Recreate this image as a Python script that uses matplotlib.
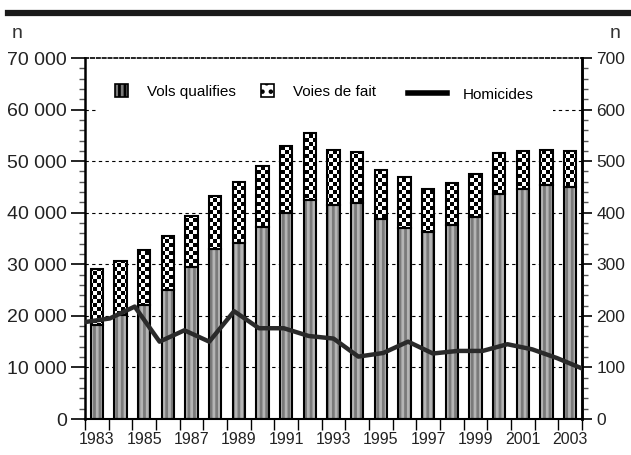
import numpy as np
import matplotlib
matplotlib.use("Agg")
import matplotlib.pyplot as plt
from matplotlib.lines import Line2D
from matplotlib.patches import Rectangle
from matplotlib.path import Path
from matplotlib.legend import Legend
from matplotlib.legend_handler import HandlerPatch
from matplotlib.ticker import MultipleLocator, FuncFormatter

years = list(range(1983, 2004))
vols_qualifies = [18200, 20100, 22100, 25100, 29500, 33000, 34200, 37300, 40000, 42400,
                  41400, 41900, 38800, 37000, 36200, 37600, 39100, 43700, 44600, 45300, 45000]
total_violence = [29100, 30600, 32700, 35400, 39300, 43200, 45900, 49100, 52900, 55400,
                  52100, 51700, 48300, 47000, 44600, 45800, 47600, 51500, 51900, 52200, 52000]
voies_de_fait = [t - v for t, v in zip(total_violence, vols_qualifies)]
homicides = [188, 195, 218, 150, 172, 150, 209, 176, 176, 161,
             156, 121, 128, 150, 127, 132, 132, 145, 135, 118, 98]
labels = ['Vols qualifies', 'Voies de fait', 'Homicides']

plt.rcParams['font.family'] = ['Liberation Sans', 'DejaVu Sans']
plt.rcParams['hatch.linewidth'] = 2.0

fig = plt.figure(figsize=(6.31, 4.55), dpi=100)
ax = fig.add_axes([85/631, 1-419/455, (582-85)/631, (419-58)/455])

n = len(years)
xc = np.arange(n) + 0.5
w = 0.52
YMAX = 70000

# Vols qualifies: gray with vertical stripes
ax.bar(xc, vols_qualifies, width=w, color='#7a7a7a', hatch='|||', edgecolor='#b4b4b4',
       linewidth=0, zorder=2)
ax.bar(xc, vols_qualifies, width=w, fill=False, edgecolor='black', linewidth=1.5, zorder=3)
# Voies de fait: checkerboard texture clipped to the bars
vdf = ax.bar(xc, voies_de_fait, bottom=vols_qualifies, width=w, color='white',
             linewidth=0, zorder=2)
ax.bar(xc, voies_de_fait, bottom=vols_qualifies, width=w, fill=False, edgecolor='black',
       linewidth=1.5, zorder=3)

nx, ny = 124, 90
checker = np.indices((ny, nx)).sum(axis=0) % 2
im = ax.imshow(checker, cmap='gray', interpolation='nearest', aspect='auto',
               extent=(0, n, 0, YMAX), origin='lower', zorder=2.5)
clip = Path.make_compound_path(*[p.get_path().transformed(p.get_patch_transform())
                                 for p in vdf])
im.set_clip_path(clip, ax.transData)

ax.set_xlim(0, n)
ax.set_ylim(0, YMAX)
ax.yaxis.set_major_locator(MultipleLocator(10000))
ax.yaxis.set_minor_locator(MultipleLocator(2000))
ax.yaxis.set_major_formatter(FuncFormatter(lambda v, p: f"{int(v):,}".replace(",", " ")))
ax.tick_params(axis='y', which='major', length=10, width=1.2, labelsize=14, pad=3,
               labelcolor='#222222')
ax.tick_params(axis='y', which='minor', length=4, width=1.0, color='#555555')

ax.set_xticks(np.arange(n + 1))
ax.set_xticklabels([])
ax.set_xticks(xc[::2], minor=True)
ax.set_xticklabels([str(y) for y in years[::2]], minor=True)
ax.tick_params(axis='x', which='major', length=8, width=1.0, direction='out')
ax.tick_params(axis='x', which='minor', length=0, labelsize=11.5, pad=9.5,
               labelcolor='#222222')

for y in range(10000, YMAX, 10000):
    ax.axhline(y, color='black', linestyle=(0, (3, 3)), linewidth=0.8, zorder=1)

ax.spines['top'].set_linestyle((0, (2, 1.5)))
ax.spines['top'].set_linewidth(1.2)
ax.spines['left'].set_linewidth(1.8)
ax.spines['bottom'].set_linewidth(1.5)
ax.spines['right'].set_linewidth(1.8)

# white band behind the legend
ax.add_patch(Rectangle((0.024, 0.842), 0.918, 0.118, transform=ax.transAxes,
                       facecolor='white', edgecolor='none', zorder=1.5))

ax2 = ax.twinx()
ax2.set_ylim(0, 700)
ax2.yaxis.set_major_locator(MultipleLocator(100))
ax2.yaxis.set_minor_locator(MultipleLocator(20))
ax2.tick_params(axis='y', which='major', length=7, width=1.2, labelsize=12.5, pad=3.5,
                labelcolor='#222222')
ax2.tick_params(axis='y', which='minor', length=4, width=1.0, color='#555555')
for s in ax2.spines.values():
    s.set_visible(False)
ax2.spines['right'].set_visible(True)
ax2.spines['right'].set_linewidth(1.8)

ax3 = ax2.twiny()
ax3.plot(np.arange(n), homicides, color='#2a2a2a', linewidth=3.2, solid_joinstyle='round',
         zorder=5)
ax3.set_xlim(0, n - 1)
ax3.set_ylim(0, 700)
ax3.xaxis.set_visible(False)
for s in ax3.spines.values():
    s.set_visible(False)


class SquareHandler(HandlerPatch):
    def create_artists(self, legend, orig_handle, xdescent, ydescent, width, height,
                       fontsize, trans):
        side = 9.5
        p = Rectangle((-xdescent + width - side - 2.2, -ydescent + (height - side) / 2),
                      side, side, facecolor=orig_handle.get_facecolor(),
                      hatch=orig_handle.get_hatch(), edgecolor='black', linewidth=1.2,
                      transform=trans)
        return [p]


handles = [Rectangle((0, 0), 1, 1, facecolor='#7a7a7a', hatch='|||'),
           Rectangle((0, 0), 1, 1, facecolor='white', hatch='..'),
           Line2D([], [], color='black', linewidth=4)]
anchors = [(0.0141, 0.906), (0.3078, 0.906), (0.6499, 0.898)]
for h, lab, anc in zip(handles, labels, anchors):
    lg = Legend(ax3, [h], [lab], handler_map={Rectangle: SquareHandler()},
                loc='center left', bbox_to_anchor=anc, frameon=False,
                fontsize=11, handlelength=2.55, handletextpad=1.05,
                borderpad=0, borderaxespad=0)
    lg.set_zorder(10)
    ax3.add_artist(lg)

fig.add_artist(Line2D([8/631, 1.0], [1 - 13/455, 1 - 13/455], color='#1a1a1a',
                      linewidth=4.5))
fig.text(12/631, 1 - 33/455, 'n', fontsize=14, color='#333333', va='center', ha='left')
fig.text(621/631, 1 - 33/455, 'n', fontsize=14, color='#333333', va='center', ha='right')

fig.savefig('out.png', dpi=100)
